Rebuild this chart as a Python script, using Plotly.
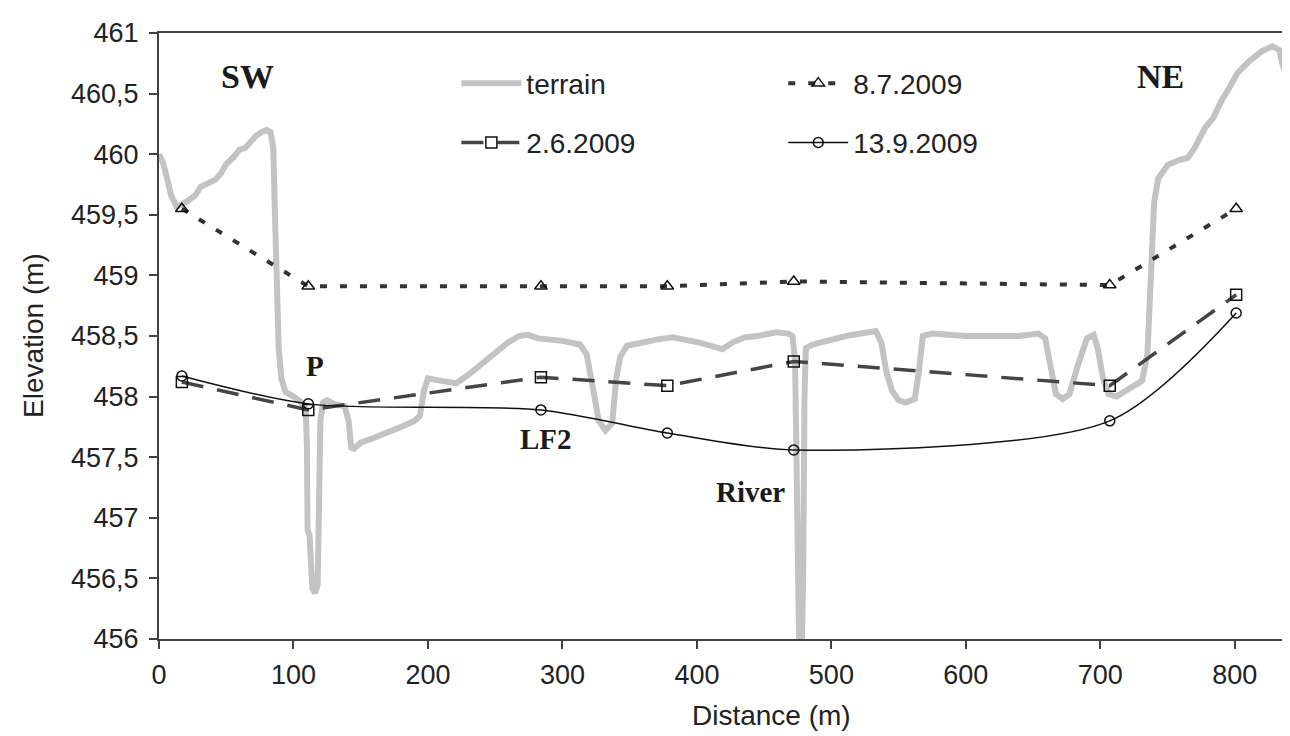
import plotly.graph_objects as go

# ---- data ----
terrain_x = [0, 3, 6, 9, 13, 16, 22, 27, 31, 36, 42, 46, 50, 55, 60, 64, 68, 72, 76, 80, 83, 85, 86, 87, 88, 89, 91, 94,
             100, 105, 109, 110, 110.5, 112, 114, 116, 118, 119, 120, 122, 125, 130, 138, 141, 143, 145, 150, 160, 170,
             180, 190, 194, 197, 200, 210, 221, 230, 238, 245, 252, 260, 268, 274, 282, 290, 300, 313, 318, 323, 327,
             332, 337, 340, 343, 348, 360, 370, 382, 392, 400, 410, 419, 427, 436, 445, 459, 468, 471, 473, 474, 475,
             476, 478, 479, 480, 481, 486, 500, 511, 522, 533, 537, 541, 545, 550, 555, 562, 565, 568, 575, 585, 600,
             620, 640, 654, 659, 663, 667, 672, 677, 683, 690, 695, 698, 702, 706, 712, 720, 731, 735, 738, 740, 743,
             750, 758, 765, 770, 778, 784, 790, 796, 802, 810, 815, 820, 828, 833, 836, 840, 844]
terrain_y = [460.00, 459.93, 459.80, 459.66, 459.57, 459.58, 459.62, 459.66, 459.73, 459.76, 459.79, 459.84, 459.92,
             459.97, 460.04, 460.05, 460.10, 460.15, 460.18, 460.20, 460.18, 460.05, 459.60, 459.20, 458.70, 458.40,
             458.15, 458.04, 458.00, 457.96, 457.90, 457.60, 456.90, 456.85, 456.42, 456.38, 456.45, 457.20, 457.80,
             457.95, 457.97, 457.94, 457.92, 457.80, 457.58, 457.57, 457.62, 457.66, 457.70, 457.75, 457.80, 457.84,
             458.05, 458.15, 458.13, 458.11, 458.18, 458.25, 458.32, 458.38, 458.45, 458.50, 458.51, 458.48, 458.47,
             458.46, 458.43, 458.35, 458.05, 457.80, 457.72, 457.78, 458.15, 458.33, 458.42, 458.45, 458.47, 458.49,
             458.47, 458.45, 458.42, 458.39, 458.45, 458.49, 458.50, 458.53, 458.52, 458.50, 458.30, 457.50, 456.30,
             455.95, 455.95, 456.50, 458.00, 458.40, 458.43, 458.47, 458.50, 458.52, 458.54, 458.45, 458.20, 458.05,
             457.97, 457.95, 457.98, 458.20, 458.50, 458.52, 458.51, 458.50, 458.50, 458.50, 458.52, 458.48, 458.25,
             458.02, 457.98, 458.02, 458.25, 458.48, 458.51, 458.40, 458.15, 458.02, 458.00, 458.05, 458.13, 458.35,
             459.20, 459.60, 459.80, 459.91, 459.95, 459.97, 460.05, 460.22, 460.30, 460.44, 460.55, 460.67, 460.76,
             460.80, 460.85, 460.89, 460.86, 460.72, 460.63, 460.59]

obs_x = [17, 111, 284, 378, 472, 707, 801]
jul_8 = [459.55, 458.91, 458.91, 458.91, 458.95, 458.92, 459.55]
jun_2 = [458.12, 457.89, 458.16, 458.09, 458.29, 458.09, 458.84]
sep_13 = [458.17, 457.94, 457.89, 457.70, 457.56, 457.80, 458.69]

y_ticks = [456, 456.5, 457, 457.5, 458, 458.5, 459, 459.5, 460, 460.5, 461]
y_tick_text = ["456", "456,5", "457", "457,5", "458", "458,5", "459", "459,5", "460", "460,5", "461"]
x_ticks = [0, 100, 200, 300, 400, 500, 600, 700, 800]

labels = ["SW", "NE", "P", "LF2", "River"]
label_x = [66, 745, 116, 288, 440]
label_y = [460.64, 460.64, 458.25, 457.65, 457.21]
label_size = [34, 34, 29, 29, 29]

x_title = "Distance (m)"
y_title = "Elevation (m)"

# ---- figure ----
fig = go.Figure()
fig.add_trace(go.Scatter(x=terrain_x, y=terrain_y, mode="lines", name="terrain",
                         line=dict(color="#c3c3c3", width=6), legend="legend", legendgroup="a"))
fig.add_trace(go.Scatter(x=obs_x, y=jul_8, mode="lines+markers", name="8.7.2009",
                         line=dict(color="#333333", width=4, dash="7px,13px"),
                         marker=dict(symbol="triangle-up-open", size=11, color="#111111", line=dict(width=1.5)),
                         legend="legend2", legendgroup="b"))
fig.add_trace(go.Scatter(x=obs_x, y=jun_2, mode="lines+markers", name="2.6.2009",
                         line=dict(color="#454545", width=3.5, dash="22px,14px"),
                         marker=dict(symbol="square-open", size=11, color="#111111", line=dict(width=1.5)),
                         legend="legend", legendgroup="c"))
fig.add_trace(go.Scatter(x=obs_x, y=sep_13, mode="lines+markers", name="13.9.2009",
                         line=dict(color="#111111", width=1.5, shape="spline", smoothing=0.8),
                         marker=dict(symbol="circle-open", size=10, color="#111111", line=dict(width=1.5)),
                         legend="legend2", legendgroup="d"))

for t, xx, yy, s in zip(labels, label_x, label_y, label_size):
    fig.add_annotation(x=xx, y=yy, text="<b>" + t + "</b>", showarrow=False,
                       font=dict(family="Liberation Serif, Times New Roman, serif", size=s, color="#1a1a1a"))

sans = "Liberation Sans, Arial, sans-serif"
# axis titles (placed slightly off the plot-area centre, as in the original)
fig.add_annotation(xref="paper", yref="paper", x=0.54, y=-0.127, text=x_title, showarrow=False,
                   xanchor="center", yanchor="middle", font=dict(family=sans, size=28, color="#222222"))
fig.add_annotation(xref="paper", yref="paper", x=-0.111, y=0.5, text=y_title, showarrow=False, textangle=-90,
                   xanchor="center", yanchor="middle", font=dict(family=sans, size=28, color="#222222"))

axis_font = dict(family=sans, size=27, color="#222222")
legend_common = dict(font=dict(family=sans, size=28, color="#222222"),
                     bgcolor="rgba(0,0,0,0)", traceorder="grouped", tracegroupgap=20,
                     itemwidth=60, yanchor="top", xanchor="left")

fig.update_layout(
    width=1290, height=736,
    paper_bgcolor="white", plot_bgcolor="white",
    margin=dict(l=151, r=2, t=25, b=105),
    showlegend=True,
    legend=dict(x=0.262, y=0.958, **legend_common),
    legend2=dict(x=0.55, y=0.958, **legend_common),
    xaxis=dict(range=[0, 844], tickvals=x_ticks, ticks="outside", ticklen=8, tickwidth=1.5,
               tickcolor="#404040", showline=True, linecolor="#404040", linewidth=2, mirror=True,
               showgrid=False, zeroline=False, tickfont=axis_font, ticklabelstandoff=3),
    yaxis=dict(range=[456, 461], tickvals=y_ticks, ticktext=y_tick_text, ticks="outside", ticklen=8,
               tickwidth=1.5, tickcolor="#404040", showline=True, linecolor="#404040", linewidth=2, mirror=True,
               showgrid=False, zeroline=False, tickfont=axis_font, ticklabelstandoff=5),
)

fig.write_html("out.html")
